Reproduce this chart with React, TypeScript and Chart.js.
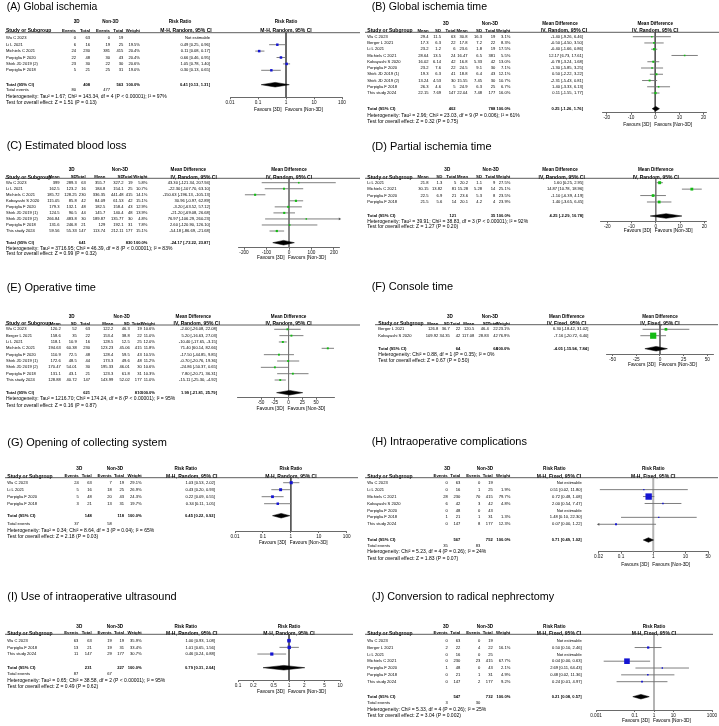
import React, { useEffect, useRef } from "react";
import { Chart, registerables } from "chart.js";
Chart.register(...registerables);

const FONT = '"Liberation Sans", Arial, Helvetica, sans-serif';
const BODY = 4.1;
const HDR = 4.3;
const GRP = 4.6;
const BIGHDR = 5.0;
const FOOT = 5.0;
const FAV = 4.8;
const TICK = 4.7;
const AXH = 12;

// ---------------- (A) Global ischemia : RR, M-H Random ----------------
const A_study = ["Wu C 2023", "Li L 2021", "Michiels C 2021", "Porpiglia F 2020", "Shirk JD 2019 (2)", "Porpiglia F 2018"];
const A_e1 = [0, 6, 24, 22, 23, 5];
const A_n1 = [63, 16, 230, 48, 30, 21];
const A_e2 = [0, 19, 381, 30, 22, 25];
const A_n2 = [19, 25, 415, 43, 30, 31];
const A_w = [null, 19.5, 20.4, 20.4, 20.6, 19.0];
const A_est = [null, 0.49, 0.11, 0.66, 1.05, 0.3];
const A_lo = [null, 0.25, 0.08, 0.46, 0.78, 0.13];
const A_hi = [null, 0.96, 0.17, 0.95, 1.4, 0.65];
const A_totals = [408, 563];
const A_events = [80, 477];
const A_pooled = [0.41, 0.13, 1.31];
const A_het = "Heterogeneity: Tau² = 1.67; Chi² = 143.34, df = 4 (P < 0.00001); I² = 97%";
const A_z = "Test for overall effect: Z = 1.51 (P = 0.13)";

// ---------------- (B) Global ischemia time : MD, IV Random ----------------
const B_study = ["Wu C 2023", "Berger L 2021", "Li L 2021", "Michiels C 2021", "Kobayashi S 2020", "Porpiglia F 2020", "Shirk JD 2019 (1)", "Shirk JD 2019 (2)", "Porpiglia F 2018", "This study 2024"];
const B_m1 = [29.4, 17.3, 23.2, 28.64, 16.02, 23.2, 19.3, 13.24, 26.3, 22.15];
const B_sd1 = [11.5, 6.3, 1.2, 13.5, 6.14, 7.6, 6.3, 4.53, 4.6, 7.69];
const B_n1 = [63, 22, 6, 24, 42, 22, 41, 30, 5, 147];
const B_m2 = [30.8, 17.8, 23.6, 16.47, 16.8, 24.5, 18.8, 15.55, 24.9, 22.04];
const B_sd2 = [16.3, 7.2, 1.8, 6.5, 5.33, 9.1, 6.4, 7.45, 6.3, 7.48];
const B_n2 = [19, 22, 19, 381, 42, 30, 43, 30, 25, 177];
const B_w = [3.1, 8.3, 17.5, 5.5, 13.0, 7.1, 12.1, 10.7, 6.7, 16.0];
const B_est = [-1.4, -0.5, -0.4, 12.17, -0.78, -1.3, 0.5, -2.31, 1.4, 0.11];
const B_lo = [-9.26, -4.5, -1.66, 6.73, -3.24, -5.85, -2.22, -5.43, -3.33, -1.55];
const B_hi = [6.46, 3.5, 0.86, 17.61, 1.68, 3.25, 3.22, 0.81, 6.13, 1.77];
const B_totals = [402, 788];
const B_pooled = [0.25, -1.26, 1.76];
const B_het = "Heterogeneity: Tau² = 2.96; Chi² = 23.03, df = 9 (P = 0.006); I² = 61%";
const B_z = "Test for overall effect: Z = 0.32 (P = 0.75)";

// ---------------- (C) Estimated blood loss : MD, IV Random ----------------
const C_study = ["Wu C 2023", "Li L 2021", "Michiels C 2021", "Kobayashi S 2020", "Porpiglia F 2020", "Shirk JD 2019 (1)", "Shirk JD 2019 (2)", "Porpiglia F 2018", "This study 2024"];
const C_m1 = [399, 162.5, 185.72, 115.05, 179.3, 124.5, 266.84, 131.6, 59.56];
const C_sd1 = [289.3, 123.2, 128.25, 85.8, 132.1, 90.5, 483.8, 246.8, 55.33];
const C_n1 = [63, 16, 230, 42, 48, 44, 30, 21, 147];
const C_m2 = [355.7, 184.8, 336.35, 84.09, 182.5, 145.7, 189.87, 129, 113.74];
const C_sd2 = [327.2, 154.1, 441.48, 61.53, 158.4, 140.4, 135.77, 192.1, 212.11];
const C_n2 = [19, 25, 415, 42, 43, 48, 30, 31, 177];
const C_w = [5.8, 10.7, 14.1, 15.1, 12.9, 13.9, 4.8, 7.8, 15.1];
const C_est = [43.3, -22.3, -150.63, 30.96, -3.2, -21.2, 76.97, 2.6, -54.18];
const C_lo = [-121.34, -107.7, -196.13, -0.97, -63.52, -69.08, -106.29, -120.9, -86.69];
const C_hi = [207.94, 63.1, -105.13, 62.89, 57.12, 26.68, 260.23, 126.1, -21.68];
const C_totals = [641, 830];
const C_pooled = [-24.17, -72.22, 23.87];
const C_het = "Heterogeneity: Tau² = 3716.95; Chi² = 46.39, df = 8 (P < 0.00001); I² = 83%";
const C_z = "Test for overall effect: Z = 0.99 (P = 0.32)";

// ---------------- (D) Partial ischemia time : MD, IV Random ----------------
const D_study = ["Li L 2021", "Michiels C 2021", "Porpiglia F 2020", "Porpiglia F 2018"];
const D_m1 = [21.8, 30.15, 22.5, 21.5];
const D_sd1 = [1.3, 13.82, 6.9, 5.6];
const D_n1 = [5, 81, 21, 14];
const D_m2 = [20.2, 15.28, 23.6, 20.1];
const D_sd2 = [1.1, 5.28, 5.3, 4.2];
const D_n2 = [9, 14, 8, 4];
const D_w = [27.5, 25.1, 23.5, 23.9];
const D_est = [1.6, 14.87, -1.1, 1.4];
const D_lo = [0.25, 10.78, -6.39, -3.65];
const D_hi = [2.95, 18.96, 4.19, 6.45];
const D_totals = [121, 35];
const D_pooled = [4.25, -2.29, 10.78];
const D_het = "Heterogeneity: Tau² = 39.91; Chi² = 38.83, df = 3 (P < 0.00001); I² = 92%";
const D_z = "Test for overall effect: Z = 1.27 (P = 0.20)";

// ---------------- (E) Operative time : MD, IV Random ----------------
const E_study = ["Wu C 2023", "Berger L 2021", "Li L 2021", "Michiels C 2021", "Porpiglia F 2020", "Shirk JD 2019 (1)", "Shirk JD 2019 (2)", "Porpiglia F 2018", "This study 2024"];
const E_m1 = [120.2, 158.6, 118.1, 194.63, 110.9, 172.6, 170.47, 131.1, 128.88];
const E_sd1 = [52, 35, 10.9, 60.38, 72.5, 48.5, 54.01, 43.1, 40.72];
const E_n1 = [63, 22, 16, 230, 48, 44, 30, 21, 147];
const E_m2 = [122.2, 153.4, 128.5, 123.23, 128.4, 173.3, 195.33, 123.3, 143.99];
const E_sd2 = [46.3, 38.8, 12.5, 45.06, 59.5, 49.6, 46.01, 61.8, 52.02];
const E_n2 = [19, 22, 25, 415, 43, 48, 30, 31, 177];
const E_w = [10.6, 11.0, 12.0, 11.8, 10.5, 11.2, 10.6, 10.3, 11.0];
const E_est = [-2.0, 5.2, -10.4, 71.4, -17.5, -0.7, -24.86, 7.8, -15.11];
const E_lo = [-26.08, -16.63, -17.65, 60.14, -44.85, -20.76, -50.37, -20.71, -25.3];
const E_hi = [22.08, 27.03, -3.15, 82.66, 9.85, 19.36, 0.65, 36.31, -4.92];
const E_totals = [621, 810];
const E_pooled = [1.99, -21.81, 25.79];
const E_het = "Heterogeneity: Tau² = 1216.70; Chi² = 174.24, df = 8 (P < 0.00001); I² = 95%";
const E_z = "Test for overall effect: Z = 0.16 (P = 0.87)";

// ---------------- (F) Console time : MD, IV Fixed ----------------
const F_study = ["Berger L 2021", "Kobayashi S 2020"];
const F_m1 = [126.8, 109.92];
const F_sd1 = [36.7, 34.35];
const F_n1 = [22, 42];
const F_m2 = [120.5, 117.08];
const F_sd2 = [46.4, 28.83];
const F_n2 = [22, 42];
const F_w = [23.1, 76.9];
const F_est = [6.3, -7.16];
const F_lo = [-18.42, -20.72];
const F_hi = [31.02, 6.4];
const F_totals = [64, 64];
const F_pooled = [-4.05, -15.94, 7.84];
const F_het = "Heterogeneity: Chi² = 0.88, df = 1 (P = 0.35); I² = 0%";
const F_z = "Test for overall effect: Z = 0.67 (P = 0.50)";

// ---------------- (G) Opening of collecting system : RR, M-H Random ----------------
const G_study = ["Wu C 2023", "Li L 2021", "Porpiglia F 2020", "Porpiglia F 2018"];
const G_e1 = [24, 5, 5, 3];
const G_n1 = [63, 16, 48, 21];
const G_e2 = [7, 18, 20, 13];
const G_n2 = [19, 25, 43, 31];
const G_w = [29.1, 26.9, 24.3, 19.7];
const G_est = [1.03, 0.43, 0.22, 0.34];
const G_lo = [0.53, 0.2, 0.09, 0.11];
const G_hi = [2.02, 0.93, 0.55, 1.05];
const G_totals = [148, 118];
const G_events = [37, 58];
const G_pooled = [0.45, 0.22, 0.92];
const G_het = "Heterogeneity: Tau² = 0.34; Chi² = 8.64, df = 3 (P = 0.04); I² = 65%";
const G_z = "Test for overall effect: Z = 2.18 (P = 0.03)";

// ---------------- (H) Intraoperative complications : RR, M-H Fixed ----------------
const H_study = ["Wu C 2023", "Li L 2021", "Michiels C 2021", "Kobayashi S 2020", "Porpiglia F 2020", "Porpiglia F 2018", "This study 2024"];
const H_e1 = [0, 0, 28, 6, 0, 1, 0];
const H_n1 = [63, 16, 230, 42, 48, 21, 147];
const H_e2 = [0, 1, 70, 3, 0, 1, 8];
const H_n2 = [19, 25, 415, 42, 43, 31, 177];
const H_w = [null, 1.9, 79.7, 4.8, null, 1.3, 12.3];
const H_est = [null, 0.51, 0.72, 2.0, null, 1.48, 0.07];
const H_lo = [null, 0.022, 0.48, 0.54, null, 0.1, 0.004];
const H_hi = [null, 11.8, 1.08, 7.47, null, 22.3, 1.22];
const H_totals = [567, 752];
const H_events = [35, 83];
const H_pooled = [0.71, 0.49, 1.02];
const H_het = "Heterogeneity: Chi² = 5.23, df = 4 (P = 0.26); I² = 24%";
const H_z = "Test for overall effect: Z = 1.83 (P = 0.07)";

// ---------------- (I) Use of intraoperative ultrasound : RR, M-H Random ----------------
const I_study = ["Wu C 2023", "Porpiglia F 2018", "This study 2024"];
const I_e1 = [63, 13, 11];
const I_n1 = [63, 21, 147];
const I_e2 = [19, 19, 29];
const I_n2 = [19, 31, 177];
const I_w = [35.9, 33.4, 30.7];
const I_est = [1.0, 1.01, 0.46];
const I_lo = [0.93, 0.65, 0.24];
const I_hi = [1.08, 1.56, 0.88];
const I_totals = [231, 227];
const I_events = [87, 67];
const I_pooled = [0.79, 0.31, 2.04];
const I_het = "Heterogeneity: Tau² = 0.65; Chi² = 38.58, df = 2 (P < 0.00001); I² = 95%";
const I_z = "Test for overall effect: Z = 0.49 (P = 0.62)";

// ---------------- (J) Conversion to radical nephrectomy : RR, M-H Fixed ----------------
const J_study = ["Wu C 2023", "Berger L 2021", "Li L 2021", "Michiels C 2021", "Porpiglia F 2020", "Porpiglia F 2018", "This study 2024"];
const J_e1 = [0, 2, 0, 0, 1, 0, 0];
const J_n1 = [63, 22, 16, 230, 48, 21, 147];
const J_e2 = [0, 4, 0, 23, 0, 1, 2];
const J_n2 = [19, 22, 25, 415, 43, 31, 177];
const J_w = [null, 16.1, null, 67.7, 2.1, 4.9, 9.2];
const J_est = [null, 0.5, null, 0.04, 2.69, 0.48, 0.24];
const J_lo = [null, 0.1, null, 0.0025, 0.11, 0.02, 0.0116];
const J_hi = [null, 2.46, null, 0.63, 64.43, 11.36, 4.97];
const J_totals = [547, 732];
const J_events = [3, 30];
const J_pooled = [0.21, 0.08, 0.57];
const J_het = "Heterogeneity: Chi² = 5.33, df = 4 (P = 0.26); I² = 25%";
const J_z = "Test for overall effect: Z = 3.04 (P = 0.002)";

// ---------------- layouts (positions only) ----------------
type Layout = any;
const LA: Layout = { left: 0, top: 0, W: 360, H: 139, titleX: 6.7, titleY: 10.3, titleSize: 10.4, studyX: 6, cols: [76, 90, 110, 123.3, 140, 210], g3D: 76.7, gNon: 110.3, effHdr: 180, ciHdr: 186, hdr1: 22, hdr2: 31, lineY: 32.7, lineX1: 5, lineX2: 360, firstRow: 38.3, step: 6.4, totalY: 84.7, eventsY: 90.3, hetY: 96.7, zY: 102.7, axisY: 97.3, favY: 109.3, xMin: 0.01, xMax: 100, xMinPx: 230, xMaxPx: 342, ticks: [0.01, 0.1, 1, 10, 100], nullColor: "#555", nullWidth: 1 };
const LB: Layout = { left: 360, top: 0, W: 359, H: 139, titleX: 11.7, titleY: 10.3, titleSize: 10.6, studyX: 7.3, cols: [68.5, 81, 95.5, 107.5, 122, 135.3, 150.3, 223], g3D: 86, gNon: 130, effHdr: 200, ciHdr: 204, hdr1: 24, hdr2: 30.7, lineY: 32.3, lineX1: 5, lineX2: 359, firstRow: 36.7, step: 6.26, totalY: 108.7, hetY: 115.7, zY: 121.3, axisY: 112.7, favY: 125, xMin: -22, xMax: 21, xMinPx: 242, xMaxPx: 346, ticks: [-20, -10, 0, 10, 20], nullColor: "#555", nullWidth: 1 };
const LC: Layout = { left: 0, top: 139, W: 360, H: 142, titleX: 6.7, titleY: 148.7, titleSize: 11, studyX: 6, cols: [59.5, 76.7, 85.7, 105.3, 123.5, 132.5, 147.5, 210], g3D: 71.7, gNon: 120, effHdr: 188.3, ciHdr: 193.7, hdr1: 170, hdr2: 177.3, lineY: 178.3, lineX1: 5, lineX2: 360, firstRow: 182.7, step: 6.04, totalY: 242.7, hetY: 248.3, zY: 254, axisY: 247.7, favY: 257.3, xMin: -225, xMax: 225, xMinPx: 238.4, xMaxPx: 339.6, ticks: [-200, -100, 0, 100, 200], nullColor: "#777", nullWidth: 1 };
const LD: Layout = { left: 360, top: 139, W: 359, H: 142, titleX: 11.7, titleY: 149.7, titleSize: 11, studyX: 7.3, cols: [68.5, 82.3, 96.3, 108, 122, 135.3, 150.3, 223.3], g3D: 87.3, gNon: 130.7, effHdr: 200, ciHdr: 201.7, hdr1: 170, hdr2: 177.3, lineY: 178.3, lineX1: 5, lineX2: 359, firstRow: 182.7, step: 6.43, totalY: 216, hetY: 221.3, zY: 227, axisY: 221.3, favY: 231, xMin: -23, xMax: 21, xMinPx: 240, xMaxPx: 346.7, ticks: [-20, -10, 0, 10, 20], nullColor: "#777", nullWidth: 1 };
const LE: Layout = { left: 0, top: 281, W: 360, H: 152, titleX: 6.7, titleY: 291.3, titleSize: 11, studyX: 6, cols: [60.7, 76.7, 90, 113.3, 129.7, 141.7, 155, 217], g3D: 71.7, gNon: 121.7, effHdr: 193.3, ciHdr: 196.7, hdr1: 316.7, hdr2: 324, lineY: 325, lineX1: 5, lineX2: 360, firstRow: 329.3, step: 6.34, totalY: 392.7, hetY: 399, zY: 405.3, axisY: 397.7, favY: 409, xMin: -93, xMax: 83, xMinPx: 237.4, xMaxPx: 334.2, ticks: [-50, -25, 0, 25, 50], nullColor: "#777", nullWidth: 1 };
const LF: Layout = { left: 360, top: 281, W: 359, H: 152, titleX: 11.7, titleY: 290.3, titleSize: 11, studyX: 18.3, cols: [78.3, 89.7, 100.3, 114.3, 128.7, 137.7, 150, 228.5], g3D: 90, gNon: 130, effHdr: 206.7, ciHdr: 206.7, hdr1: 316.7, hdr2: 324, lineY: 324.7, lineX1: 15, lineX2: 358, firstRow: 329.3, step: 6.4, totalY: 348.7, hetY: 354.7, zY: 360.3, axisY: 354, favY: 365, xMin: -57, xMax: 56, xMinPx: 246, xMaxPx: 353, ticks: [-50, -25, 0, 25, 50], nullColor: "#666", nullWidth: 1 };
const LG: Layout = { left: 0, top: 433, W: 360, H: 155, titleX: 7.3, titleY: 446, titleSize: 11, studyX: 7.3, cols: [78.7, 91.7, 111.7, 124, 141.7, 215], g3D: 79.3, gNon: 115, effHdr: 185.7, ciHdr: 191.7, hdr1: 468.3, hdr2: 476.3, lineY: 477.7, lineX1: 5, lineX2: 358, firstRow: 482.7, step: 7, totalY: 515.7, eventsY: 524.3, hetY: 530.7, zY: 536.7, axisY: 531, favY: 542.3, xMin: 0.01, xMax: 100, xMinPx: 235, xMaxPx: 346.7, ticks: [0.01, 0.1, 1, 10, 100], nullColor: "#555", nullWidth: 1 };
const LH: Layout = { left: 360, top: 433, W: 359, H: 155, titleX: 11.7, titleY: 445, titleSize: 11, studyX: 7.3, cols: [87.7, 100.3, 120.3, 132.7, 150.3, 221.7], g3D: 87.3, gNon: 125, effHdr: 194.3, ciHdr: 199, hdr1: 468.3, hdr2: 476.3, lineY: 477.7, lineX1: 5, lineX2: 358, firstRow: 482.7, step: 6.93, totalY: 540, eventsY: 546, hetY: 552, zY: 558.3, axisY: 551.7, favY: 564.3, xMin: 0.02, xMax: 50, xMinPx: 238.5, xMaxPx: 348, ticks: [0.02, 0.1, 1, 10, 50], nullColor: "#b4b4b4", nullWidth: 2 };
const LI: Layout = { left: 0, top: 588, W: 360, H: 138, titleX: 7.3, titleY: 600.3, titleSize: 11, studyX: 7.3, cols: [78.3, 91.7, 111.7, 124, 141.7, 215], g3D: 79.3, gNon: 115, effHdr: 185.7, ciHdr: 191.7, hdr1: 626.7, hdr2: 633.3, lineY: 634.3, lineX1: 5, lineX2: 353, firstRow: 640.7, step: 6.67, totalY: 667.7, eventsY: 674.3, hetY: 680.7, zY: 686.7, axisY: 680, favY: 691.7, xMin: 0.1, xMax: 10, xMinPx: 238, xMaxPx: 340, ticks: [0.1, 0.2, 0.5, 1, 2, 5, 10], nullColor: "#555", nullWidth: 1 };
const LJ: Layout = { left: 360, top: 588, W: 359, H: 138, titleX: 11.7, titleY: 600.3, titleSize: 10.8, studyX: 7.3, cols: [87.7, 100.3, 120.3, 132.7, 150.3, 221.7], g3D: 86, gNon: 125, effHdr: 194.3, ciHdr: 199, hdr1: 626.7, hdr2: 633.3, lineY: 634.3, lineX1: 5, lineX2: 353, firstRow: 640.7, step: 6.83, totalY: 696.7, eventsY: 703.3, hetY: 709.3, zY: 715.3, axisY: 710, favY: 720.7, xMin: 0.001, xMax: 1000, xMinPx: 236, xMaxPx: 352, ticks: [0.001, 0.1, 1, 10, 1000], nullColor: "#b4b4b4", nullWidth: 2 };

// ---------------- panel builders ----------------
type Num = number | null;
const f2 = (v: number) => v.toFixed(2);
const ciText = (e: Num, lo: Num, hi: Num) => (e == null ? "Not estimable" : `${f2(e)} [${f2(lo as number)}, ${f2(hi as number)}]`);
const wText = (w: Num) => (w == null ? "" : w.toFixed(1) + "%");

function makeRR(title: string, model: string, study: string[], e1: number[], n1: number[], e2: number[], n2: number[], w: Num[], est: Num[], lo: Num[], hi: Num[], totals: number[], events: number[], pooled: number[], het: string, z: string, L: Layout) {
  return {
    title, kind: "RR", model, study, w, est, lo, hi, pooled, het, z, L,
    hdr2: ["Events", "Total", "Events", "Total", "Weight"],
    cells: study.map((_, i) => [String(e1[i]), String(n1[i]), String(e2[i]), String(n2[i]), wText(w[i]), ciText(est[i], lo[i], hi[i])]),
    totalCells: ["", String(totals[0]), "", String(totals[1]), "100.0%", ciText(pooled[0], pooled[1], pooled[2])],
    eventCells: [String(events[0]), "", String(events[1]), "", "", ""],
  };
}
function makeMD(title: string, model: string, study: string[], m1: number[], sd1: number[], n1: number[], m2: number[], sd2: number[], n2: number[], w: Num[], est: Num[], lo: Num[], hi: Num[], totals: number[], pooled: number[], het: string, z: string, L: Layout) {
  return {
    title, kind: "MD", model, study, w, est, lo, hi, pooled, het, z, L,
    hdr2: ["Mean", "SD", "Total", "Mean", "SD", "Total", "Weight"],
    cells: study.map((_, i) => [String(m1[i]), String(sd1[i]), String(n1[i]), String(m2[i]), String(sd2[i]), String(n2[i]), wText(w[i]), ciText(est[i], lo[i], hi[i])]),
    totalCells: ["", "", String(totals[0]), "", "", String(totals[1]), "100.0%", ciText(pooled[0], pooled[1], pooled[2])],
    eventCells: null,
  };
}

const PANELS: any[] = [
  makeRR("(A) Global ischemia", "Random", A_study, A_e1, A_n1, A_e2, A_n2, A_w, A_est, A_lo, A_hi, A_totals, A_events, A_pooled, A_het, A_z, LA),
  makeMD("(B) Global ischemia time", "Random", B_study, B_m1, B_sd1, B_n1, B_m2, B_sd2, B_n2, B_w, B_est, B_lo, B_hi, B_totals, B_pooled, B_het, B_z, LB),
  makeMD("(C) Estimated blood loss", "Random", C_study, C_m1, C_sd1, C_n1, C_m2, C_sd2, C_n2, C_w, C_est, C_lo, C_hi, C_totals, C_pooled, C_het, C_z, LC),
  makeMD("(D) Partial ischemia time", "Random", D_study, D_m1, D_sd1, D_n1, D_m2, D_sd2, D_n2, D_w, D_est, D_lo, D_hi, D_totals, D_pooled, D_het, D_z, LD),
  makeMD("(E) Operative time", "Random", E_study, E_m1, E_sd1, E_n1, E_m2, E_sd2, E_n2, E_w, E_est, E_lo, E_hi, E_totals, E_pooled, E_het, E_z, LE),
  makeMD("(F) Console time", "Fixed", F_study, F_m1, F_sd1, F_n1, F_m2, F_sd2, F_n2, F_w, F_est, F_lo, F_hi, F_totals, F_pooled, F_het, F_z, LF),
  makeRR("(G) Opening of collecting system", "Random", G_study, G_e1, G_n1, G_e2, G_n2, G_w, G_est, G_lo, G_hi, G_totals, G_events, G_pooled, G_het, G_z, LG),
  makeRR("(H) Intraoperative complications", "Fixed", H_study, H_e1, H_n1, H_e2, H_n2, H_w, H_est, H_lo, H_hi, H_totals, H_events, H_pooled, H_het, H_z, LH),
  makeRR("(I) Use of intraoperative ultrasound", "Random", I_study, I_e1, I_n1, I_e2, I_n2, I_w, I_est, I_lo, I_hi, I_totals, I_events, I_pooled, I_het, I_z, LI),
  makeRR("(J) Conversion to radical nephrectomy", "Fixed", J_study, J_e1, J_n1, J_e2, J_n2, J_w, J_est, J_lo, J_hi, J_totals, J_events, J_pooled, J_het, J_z, LJ),
];

function text(ctx: CanvasRenderingContext2D, s: string, x: number, y: number, align: CanvasTextAlign, bold = false, size = BODY, baseline: CanvasTextBaseline = "middle") {
  if (!s) return;
  ctx.font = `${bold ? "bold " : ""}${size}px ${FONT}`;
  ctx.textAlign = align;
  ctx.textBaseline = baseline;
  ctx.fillStyle = "#000";
  ctx.fillText(s, x, y);
}

function buildConfig(p: any) {
  const L = p.L;
  const isLog = p.kind === "RR";
  const nullV = isLog ? 1 : 0;
  const yMin = (L.lineY - L.firstRow) / L.step;
  const yMax = (L.axisY - L.firstRow) / L.step;
  const T = (L.totalY - L.firstRow) / L.step;
  const hy = 2.3 / L.step;
  const color = isLog ? "#1414d2" : "#14bb14";

  const datasets: any[] = [];
  const sq: any[] = [];
  const rad: number[] = [];
  const arrows: any[] = [];
  const arrRot: number[] = [];
  p.est.forEach((e: Num, i: number) => {
    if (e == null) return;
    const lo = p.lo[i] as number;
    const hi = p.hi[i] as number;
    const clo = Math.max(lo, L.xMin);
    const chi = Math.min(hi, L.xMax);
    datasets.push({ type: "line", data: [{ x: clo, y: i }, { x: chi, y: i }], borderColor: "#707070", borderWidth: 0.9, pointRadius: 0, order: 2, clip: false });
    if (lo < L.xMin) { arrows.push({ x: L.xMin, y: i }); arrRot.push(270); }
    if (hi > L.xMax) { arrows.push({ x: L.xMax, y: i }); arrRot.push(90); }
    sq.push({ x: e, y: i });
    rad.push((1.2 + 0.065 * (p.w[i] ?? 0)) / Math.SQRT2);
  });
  datasets.push({ type: "scatter", data: sq, pointStyle: "rect", pointRadius: rad, backgroundColor: color, borderColor: color, borderWidth: 0, order: 0, clip: false });
  if (arrows.length) datasets.push({ type: "scatter", data: arrows, pointStyle: "triangle", rotation: arrRot, pointRadius: 1.6, backgroundColor: "#555", borderWidth: 0, order: 0, clip: false });
  const [pe, pl, ph] = p.pooled;
  datasets.push({ type: "line", data: [{ x: pl, y: T }, { x: pe, y: T - hy }, { x: ph, y: T }, { x: pe, y: T + hy }, { x: pl, y: T }], fill: "shape", backgroundColor: "#000", borderColor: "#000", borderWidth: 0.5, pointRadius: 0, tension: 0, order: 1, clip: false });
  datasets.push({ type: "line", data: [{ x: nullV, y: yMin }, { x: nullV, y: yMax }], borderColor: L.nullColor, borderWidth: L.nullWidth, pointRadius: 0, order: 3, clip: false });

  const tablePlugin = {
    id: "forestTable",
    afterDraw(chart: any) {
      const ctx = chart.ctx as CanvasRenderingContext2D;
      const ys = chart.scales.y;
      const xs = chart.scales.x;
      const t = (y: number) => y - L.top;
      const nullPx = xs.getPixelForValue(nullV);
      ctx.save();
      text(ctx, p.title, L.titleX, t(L.titleY), "left", false, L.titleSize, "alphabetic");
      const eff = isLog ? "Risk Ratio" : "Mean Difference";
      const ciH = `${isLog ? "M-H" : "IV"}, ${p.model}, 95% CI`;
      text(ctx, "3D", L.g3D, t(L.hdr1), "center", true, GRP);
      text(ctx, "Non-3D", L.gNon, t(L.hdr1), "center", true, GRP);
      text(ctx, eff, L.effHdr, t(L.hdr1), "center", true, GRP);
      text(ctx, eff, nullPx, t(L.hdr1), "center", true, GRP);
      text(ctx, "Study or Subgroup", L.studyX, t(L.hdr2), "left", true, BIGHDR);
      p.hdr2.forEach((s: string, k: number) => text(ctx, s, L.cols[k], t(L.hdr2), "right", true, HDR));
      text(ctx, ciH, L.ciHdr, t(L.hdr2), "center", true, BIGHDR);
      text(ctx, ciH, nullPx, t(L.hdr2), "center", true, BIGHDR);
      ctx.strokeStyle = "#333";
      ctx.lineWidth = 0.8;
      ctx.beginPath();
      ctx.moveTo(L.lineX1, t(L.lineY));
      ctx.lineTo(L.lineX2, t(L.lineY));
      ctx.stroke();
      p.study.forEach((s: string, i: number) => {
        const y = ys.getPixelForValue(i);
        text(ctx, s, L.studyX, y, "left");
        p.cells[i].forEach((c: string, k: number) => text(ctx, c, L.cols[k], y, "right"));
      });
      const yT = ys.getPixelForValue(T);
      text(ctx, "Total (95% CI)", L.studyX, yT, "left", true, HDR);
      p.totalCells.forEach((c: string, k: number) => text(ctx, c, L.cols[k], yT, "right", true));
      if (p.eventCells && L.eventsY) {
        const yE = t(L.eventsY);
        text(ctx, "Total events", L.studyX, yE, "left", false, HDR);
        p.eventCells.forEach((c: string, k: number) => text(ctx, c, L.cols[k], yE, "right"));
      }
      text(ctx, p.het, L.studyX, t(L.hetY), "left", false, FOOT);
      text(ctx, p.z, L.studyX, t(L.zY), "left", false, FOOT);
      text(ctx, "Favours [3D]", nullPx - 4.5, t(L.favY), "right", false, FAV);
      text(ctx, "Favours [Non-3D]", nullPx - 1, t(L.favY), "left", false, FAV);
      ctx.restore();
    },
  };

  return {
    type: "scatter",
    data: { datasets },
    options: {
      animation: false,
      responsive: false,
      maintainAspectRatio: false,
      devicePixelRatio: 1,
      events: [],
      layout: {
        padding: {
          left: L.xMinPx,
          right: L.W - L.xMaxPx,
          top: L.lineY - L.top,
          bottom: L.H - (L.axisY - L.top) - AXH,
        },
      },
      scales: {
        x: {
          type: isLog ? "logarithmic" : "linear",
          position: "bottom",
          min: L.xMin,
          max: L.xMax,
          afterBuildTicks: (s: any) => { s.ticks = L.ticks.map((v: number) => ({ value: v })); },
          afterFit: (s: any) => { s.height = AXH; },
          ticks: { autoSkip: false, maxRotation: 0, minRotation: 0, padding: 0.5, color: "#111", font: { size: TICK, family: FONT }, callback: (v: any) => String(v) },
          grid: { display: true, drawOnChartArea: false, drawTicks: true, tickLength: 2, color: "#444", lineWidth: 0.8 },
          border: { display: true, color: "#444", width: 0.8 },
        },
        y: { type: "linear", display: false, reverse: true, min: yMin, max: yMax },
      },
      plugins: { legend: { display: false }, tooltip: { enabled: false }, title: { display: false } },
    },
    plugins: [tablePlugin],
  };
}

function ForestPanel({ p }: { p: any }) {
  const ref = useRef<HTMLCanvasElement | null>(null);
  useEffect(() => {
    if (!ref.current) return;
    const chart = new Chart(ref.current, buildConfig(p) as any);
    return () => chart.destroy();
  }, [p]);
  const L = p.L;
  return <canvas ref={ref} width={L.W} height={L.H} style={{ position: "absolute", left: L.left, top: L.top, width: L.W, height: L.H }} />;
}

export default function App() {
  return (
    <div style={{ position: "absolute", left: 0, top: 0, width: 719, height: 726, background: "#fff", overflow: "hidden" }}>
      {PANELS.map((p, i) => (
        <ForestPanel key={i} p={p} />
      ))}
    </div>
  );
}
